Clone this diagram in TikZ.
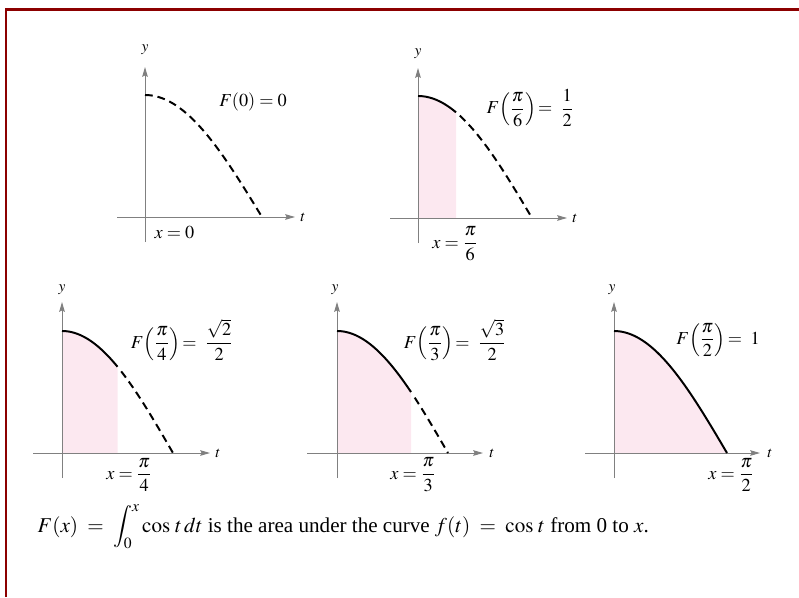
\documentclass[tikz,border=0pt]{standalone}
\usepackage{amsmath}
\usepackage{mathptmx}
\usepackage{fontspec}
\setmainfont{Liberation Serif}
\usepackage{xcolor}
\usepackage{tikz}
\usetikzlibrary{arrows.meta,positioning}
\definecolor{frameRed}{RGB}{140,0,0}
\definecolor{axisGray}{RGB}{128,128,128}
\definecolor{areaPink}{RGB}{252,232,240}
\tikzset{
  axisArr/.style={-{Stealth[length=7pt,width=4pt,inset=1pt]}, draw=axisGray, line width=0.7pt},
  solidCurve/.style={draw=black, line width=1.4pt, smooth, samples=40},
  dashCurve/.style={draw=black, line width=1.4pt, dash pattern=on 5.5pt off 3.5pt, smooth, samples=40},
  axisLab/.style={font=\fontsize{11}{13}\selectfont, inner sep=1pt},
  valLab/.style={font=\fontsize{13}{15}\selectfont, inner sep=1pt}
}

\begin{document}
\begin{tikzpicture}[x=0.025cm, y=-0.025cm]
  \useasboundingbox (0,0) rectangle (799,597);
  \draw[frameRed, line width=2pt] (6,597) -- (6,9.5) -- (799,9.5);

  % x = 0
  \begin{scope}[shift={(145,217)}]
    \coordinate (xs1) at (-28,0); \coordinate (xe1) at (150,0);
    \coordinate (ys1) at (0,25);  \coordinate (ye1) at (0,-150);
    \draw[axisArr] (xs1) -- (xe1);
    \draw[axisArr] (ys1) -- (ye1);
    \draw[dashCurve] plot[domain=0:90] ({\x*117/90},{-122*cos(\x)});
    \node[axisLab] (t1) at (158,0) {$t$};
    \node[axisLab] (y1) at (0,-167) {$y$};
    \node[valLab] (F1) at (108,-115) {$F(0) = 0$};
    \node[valLab, anchor=west] (x1) at (8,16) {$x = 0$};
  \end{scope}

  % x = pi/6
  \begin{scope}[shift={(418,218)}]
    \coordinate (xs2) at (-28,0); \coordinate (xe2) at (149,0);
    \coordinate (ys2) at (0,25);  \coordinate (ye2) at (0,-150);
    \fill[areaPink] (0,0) -- plot[domain=0:30, smooth, samples=15] ({\x*114/90},{-122*cos(\x)}) -- (38,0) -- cycle;
    \draw[axisArr] (xs2) -- (xe2);
    \draw[axisArr] (ys2) -- (ye2);
    \draw[solidCurve] plot[domain=0:30] ({\x*114/90},{-122*cos(\x)});
    \draw[dashCurve] plot[domain=33:90] ({\x*114/90},{-122*cos(\x)});
    \node[axisLab] (t2) at (157,0) {$t$};
    \node[axisLab] (y2) at (0,-164) {$y$};
    \node[valLab] (F2) at (112,-110) {$\displaystyle F\!\left(\frac{\pi}{6}\right)\!=\ \frac{1}{2}$};
    \node[valLab] (x2) at (37,26) {$x = \dfrac{\pi}{6}$};
  \end{scope}

  % x = pi/4
  \begin{scope}[shift={(62,453)}]
    \coordinate (xs3) at (-29,0); \coordinate (xe3) at (148,0);
    \coordinate (ys3) at (0,25);  \coordinate (ye3) at (0,-151);
    \fill[areaPink] (0,0) -- plot[domain=0:45, smooth, samples=15] ({\x*111/90},{-122*cos(\x)}) -- (55.5,0) -- cycle;
    \draw[axisArr] (xs3) -- (xe3);
    \draw[axisArr] (ys3) -- (ye3);
    \draw[solidCurve] plot[domain=0:45] ({\x*111/90},{-122*cos(\x)});
    \draw[dashCurve] plot[domain=48:90] ({\x*111/90},{-122*cos(\x)});
    \node[axisLab] (t3) at (156,0) {$t$};
    \node[axisLab] (y3) at (0,-163) {$y$};
    \node[valLab] (F3) at (120,-113) {$\displaystyle F\!\left(\frac{\pi}{4}\right)\!=\ \frac{\sqrt{2}}{2}$};
    \node[valLab] (x3) at (67,22) {$x = \dfrac{\pi}{4}$};
  \end{scope}

  % x = pi/3
  \begin{scope}[shift={(337,453)}]
    \coordinate (xs4) at (-30,0); \coordinate (xe4) at (146,0);
    \coordinate (ys4) at (0,25);  \coordinate (ye4) at (0,-151);
    \fill[areaPink] (0,0) -- plot[domain=0:60, smooth, samples=15] ({\x*111/90},{-122*cos(\x)}) -- (74,0) -- cycle;
    \draw[axisArr] (xs4) -- (xe4);
    \draw[axisArr] (ys4) -- (ye4);
    \draw[solidCurve] plot[domain=0:60] ({\x*111/90},{-122*cos(\x)});
    \draw[dashCurve] plot[domain=63:90] ({\x*111/90},{-122*cos(\x)});
    \node[axisLab] (t4) at (155,0) {$t$};
    \node[axisLab] (y4) at (-2,-163) {$y$};
    \node[valLab] (F4) at (118,-113) {$\displaystyle F\!\left(\frac{\pi}{3}\right)\!=\ \frac{\sqrt{3}}{2}$};
    \node[valLab] (x4) at (76,22) {$x = \dfrac{\pi}{3}$};
  \end{scope}

  % x = pi/2
  \begin{scope}[shift={(614,453)}]
    \coordinate (xs5) at (-29,0); \coordinate (xe5) at (146,0);
    \coordinate (ys5) at (0,25);  \coordinate (ye5) at (0,-151);
    \fill[areaPink] (0,0) -- plot[domain=0:90, smooth, samples=20] ({\x*113/90},{-122*cos(\x)}) -- cycle;
    \draw[axisArr] (xs5) -- (xe5);
    \draw[axisArr] (ys5) -- (ye5);
    \draw[solidCurve] plot[domain=0:90] ({\x*113/90},{-122*cos(\x)});
    \node[axisLab] (t5) at (156,0) {$t$};
    \node[axisLab] (y5) at (-2,-163) {$y$};
    \node[valLab] (F5) at (104,-113) {$\displaystyle F\!\left(\frac{\pi}{2}\right)\!=\ 1$};
    \node[valLab] (x5) at (117,22) {$x = \dfrac{\pi}{2}$};
  \end{scope}

  \node[valLab, font=\fontsize{15}{18}\selectfont, anchor=west] (cap) at (36,527)
    {$F(x) \;=\; \displaystyle\int_0^x \cos\,t\,dt$ is the area under the curve $f(t) \;=\; \cos\,t$ from 0 to $x$.};
\end{tikzpicture}
\end{document}
